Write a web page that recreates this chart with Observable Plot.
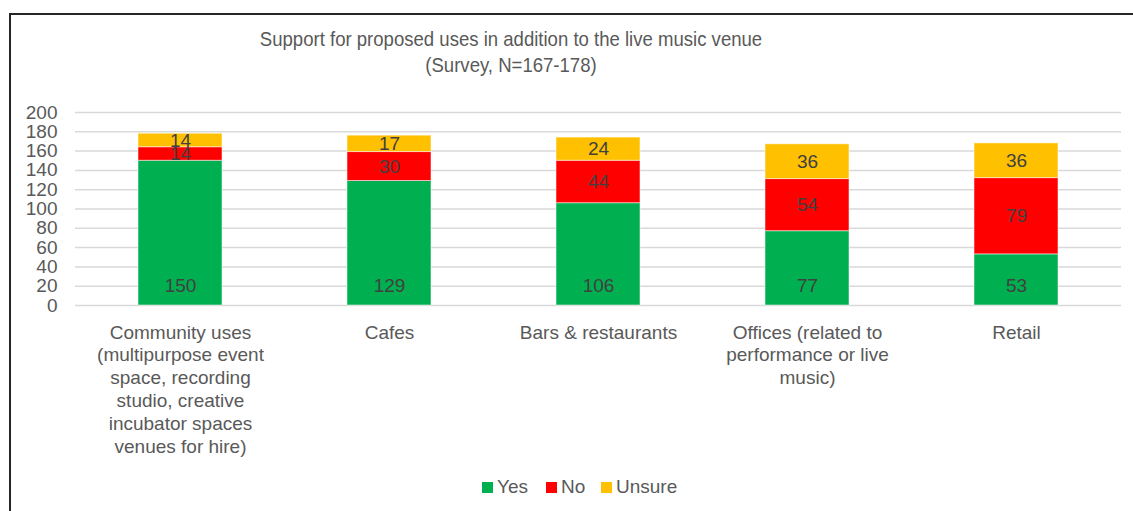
<!DOCTYPE html>
<html>
<head>
<meta charset="utf-8">
<script src="https://cdn.jsdelivr.net/npm/d3@7"></script>
<script src="https://cdn.jsdelivr.net/npm/@observablehq/plot@0.6"></script>
<style>
  html, body { margin: 0; padding: 0; background: #fff; }
  #wrap { position: relative; width: 1133px; height: 511px; overflow: hidden; font-family: "Liberation Sans", Arial, sans-serif; }
  #frame { position: absolute; left: 9px; top: 13px; width: 1130px; height: 510px; border-left: 2px solid #262626; border-top: 2px solid #262626; box-sizing: border-box; }
  #title { position: absolute; left: 161px; width: 700px; top: 26px; text-align: center; font-size: 20.4px; line-height: 26px; color: #595959; transform: scaleX(0.91); transform-origin: 350px 0; }
  #legend { position: absolute; top: 476px; left: 482px; height: 22px; font-size: 19px; line-height: 22px; color: #595959; white-space: nowrap; }
  .item { position: absolute; top: 0; }
  .sw { position: absolute; top: 6px; width: 11px; height: 11px; }
  .lab { position: absolute; top: 0; }
  #chart { position: absolute; left: 0; top: 0; }
</style>
</head>
<body>
<div id="wrap">
  <div id="chart"></div>
  <div id="frame"></div>
  <div id="title"></div>
  <div id="legend"></div>
</div>
<script>
const categories = [
  "Community uses (multipurpose event space, recording studio, creative incubator spaces venues for hire)",
  "Cafes",
  "Bars & restaurants",
  "Offices (related to performance or live music)",
  "Retail"
];
const categoryLines = [
  "Community uses\n(multipurpose event\nspace, recording\nstudio, creative\nincubator spaces\nvenues for hire)",
  "Cafes",
  "Bars & restaurants",
  "Offices (related to\nperformance or live\nmusic)",
  "Retail"
];
const series = ["Yes", "No", "Unsure"];
const yesValues = [150, 129, 106, 77, 53];
const noValues = [14, 30, 44, 54, 79];
const unsureValues = [14, 17, 24, 36, 36];
const seriesColors = ["#00B050", "#FF0000", "#FFC000"];
const yTicks = [0, 20, 40, 60, 80, 100, 120, 140, 160, 180, 200];
const titleLines = ["Support for proposed uses in addition to the live music venue", "(Survey, N=167-178)"];

const valuesBySeries = {Yes: yesValues, No: noValues, Unsure: unsureValues};
const data = [];
series.forEach(s => categories.forEach((c, i) => data.push({cat: c, series: s, value: valuesBySeries[s][i]})));
const labelOf = new Map(categories.map((c, i) => [c, categoryLines[i]]));

const font = "Liberation Sans, Arial, sans-serif";

const plot = Plot.plot({
  width: 1133,
  height: 511,
  marginTop: 112,
  marginBottom: 206,
  marginLeft: 75,
  marginRight: 12,
  style: {fontFamily: font, background: "transparent"},
  x: {domain: categories, paddingInner: 0.6, paddingOuter: 0.3, axis: null},
  y: {domain: [0, 200], axis: null},
  color: {domain: series, range: seriesColors},
  marks: [
    Plot.ruleY(yTicks, {stroke: "#d9d9d9", strokeWidth: 1.5}),
    Plot.axisY({ticks: yTicks, tickSize: 0, tickPadding: 18, fontSize: 19, fill: "#595959", label: null}),
    Plot.barY(data, {x: "cat", y: "value", fill: "series", z: "series", order: series, stroke: "#ffffff", strokeOpacity: 0.5, strokeWidth: 1}),
    Plot.text(data, Plot.stackY({x: "cat", y: "value", z: "series", order: series, text: d => d.series === "Yes" ? null : String(d.value), fontSize: 19, fill: "#404040"})),
    Plot.text(data.filter(d => d.series === "Yes"), {x: "cat", frameAnchor: "bottom", dy: -20, text: d => String(d.value), fontSize: 19, fill: "#404040", lineAnchor: "middle"}),
    Plot.text(categories, {x: d => d, frameAnchor: "bottom", dy: 17, lineAnchor: "top", text: d => labelOf.get(d), fontSize: 19, lineHeight: 1.2, fill: "#595959"})
  ]
});
document.getElementById("chart").appendChild(plot);

document.getElementById("title").innerHTML = titleLines.map(t => `<div>${t}</div>`).join("");

const legendX = [0, 64, 119];
const leg = document.getElementById("legend");
series.forEach((s, i) => {
  const it = document.createElement("div");
  it.className = "item";
  it.style.left = legendX[i] + "px";
  it.innerHTML = `<span class="sw" style="left:0;background:${seriesColors[i]}"></span><span class="lab" style="left:15px">${s}</span>`;
  leg.appendChild(it);
});
</script>
</body>
</html>
